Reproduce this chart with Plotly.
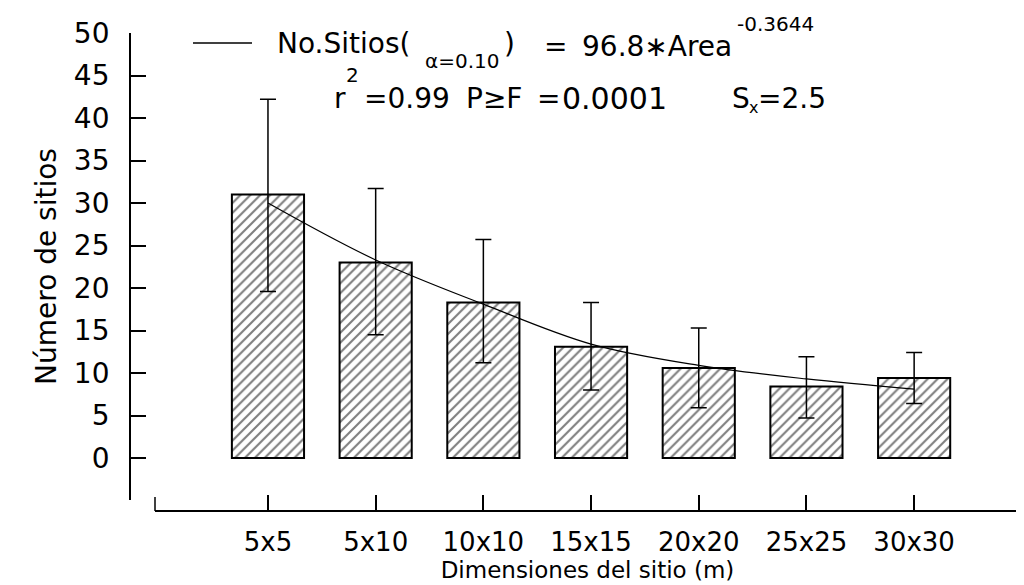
import plotly.graph_objects as go

# ---- data ----
categories = ["5x5", "5x10", "10x10", "15x15", "20x20", "25x25", "30x30"]
mean_sites = [31.0, 23.0, 18.3, 13.1, 10.6, 8.4, 9.4]
err_plus = [11.2, 8.7, 7.4, 5.2, 4.7, 3.5, 3.0]
err_minus = [11.4, 8.5, 7.1, 5.1, 4.7, 3.7, 3.0]
fit_sites = [30.0, 23.3, 18.1, 13.4, 10.9, 9.3, 8.1]
y_ticks = [0, 5, 10, 15, 20, 25, 30, 35, 40, 45, 50]

# page body has an 8px margin: figure is drawn from (8, 8) of the window
OFF = 8
W, H = 1024 - OFF, 585 - OFF
ML, MR, MT, MB = 130 - OFF, 0, 33 - OFF, H - (511 - OFF)
PW, PH = W - ML - MR, H - MT - MB


def xp(sx):  # screen x -> paper x
    return (sx - OFF - ML) / PW


def yp(sy):  # screen y -> paper y
    return (H - MB - (sy - OFF)) / PH


FONT = "DejaVu Sans"
TICK = 28
XTICK = 26
EQ = 28
SUB = 20

fig = go.Figure()
fig.add_trace(go.Bar(
    x=categories, y=mean_sites, width=0.67,
    marker=dict(color="white",
                line=dict(color="black", width=2),
                pattern=dict(shape="/", fgcolor="black", bgcolor="white",
                             size=7, solidity=0.3)),
    error_y=dict(type="data", symmetric=False, array=err_plus,
                 arrayminus=err_minus, color="black", thickness=1.5, width=8),
    showlegend=False,
))
fig.add_trace(go.Scatter(
    x=categories, y=fit_sites, mode="lines",
    line=dict(color="black", width=1.2, shape="spline"),
    showlegend=False,
))

fig.update_layout(
    width=W, height=H,
    margin=dict(l=ML, r=MR, t=MT, b=MB, autoexpand=False),
    paper_bgcolor="white", plot_bgcolor="white",
    font=dict(family=FONT, size=TICK, color="black"),
    xaxis=dict(
        domain=[xp(155), xp(1020)], range=[-1.049, 6.983],
        anchor="free", position=0,
        showline=True, linecolor="black", linewidth=1.8,
        ticks="inside", ticklen=15, tickcolor="black", tickwidth=1.5,
        showgrid=False, zeroline=False,
        ticklabelstandoff=8,
        tickfont=dict(size=XTICK),
        title=dict(text="Dimensiones del sitio (m)", standoff=5,
                   font=dict(size=23)),
    ),
    yaxis=dict(
        domain=[yp(500), 1], range=[-4.94, 50],
        anchor="free", position=0,
        showline=True, linecolor="black", linewidth=1.8,
        ticks="inside", ticklen=15, tickcolor="black", tickwidth=1.5,
        tickvals=y_ticks,
        showgrid=False, zeroline=False,
        ticklabelstandoff=14,
        tickfont=dict(size=TICK),
        title=dict(text="Número de sitios", standoff=8, font=dict(size=28)),
    ),
)

# small end marks of the detached x axis
for sx in (155, 1020):
    fig.add_shape(type="line", xref="paper", yref="paper",
                  x0=xp(sx), x1=xp(sx), y0=yp(511), y1=yp(497),
                  line=dict(color="black", width=1.5))

# legend-like equation
fig.add_shape(type="line", xref="paper", yref="paper",
              x0=xp(193), x1=xp(252), y0=yp(43), y1=yp(43),
              line=dict(color="black", width=1.5))

eq_pieces = [
    ("No.Sitios(", 276, 43, EQ),
    ("α=0.10", 424, 61, SUB),
    (")", 503, 44, EQ),
    ("=", 543, 46, EQ),
    ("96.8∗Area", 581, 46, EQ),
    ("-0.3644", 736, 24, SUB),
    ("r", 333, 98, EQ),
    ("2", 345, 75, SUB),
    ("=0.99", 363, 98, EQ),
    ("P≥F", 465, 98, EQ),
    ("=", 536, 98, EQ),
    ("0.0001", 561, 98, 30),
    ("S", 731, 98, EQ),
    ("x", 748, 107, 16),
    ("=2.5", 757, 98, EQ),
]
for txt, sx, sy, sz in eq_pieces:
    fig.add_annotation(
        xref="paper", yref="paper", x=xp(sx), y=yp(sy),
        xanchor="left", yanchor="middle", showarrow=False, borderpad=0,
        text=txt, font=dict(family=FONT, size=sz, color="black"),
    )

fig.write_html("out.html")
